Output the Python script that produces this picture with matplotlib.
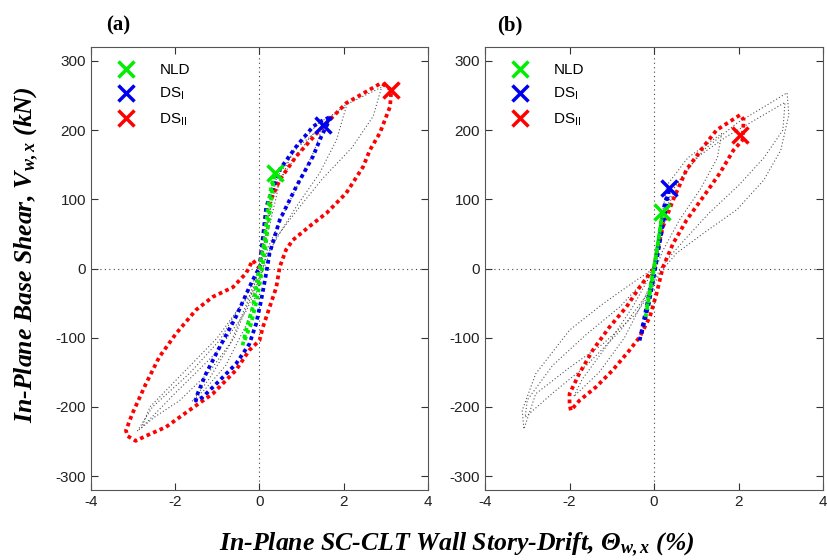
import matplotlib.pyplot as plt

plt.rcParams['font.family'] = 'Liberation Sans'
plt.rcParams['axes.unicode_minus'] = False
plt.rcParams['mathtext.fontset'] = 'custom'
plt.rcParams['mathtext.rm'] = 'Liberation Serif:italic:bold'
plt.rcParams['mathtext.it'] = 'Liberation Serif:italic:bold'
plt.rcParams['mathtext.bf'] = 'Liberation Serif:italic:bold'

# ---- panel (a) data: drift (%) and base shear (kN) ----
a_red_x = [0, 0.08, 0.2, 0.48, 0.87, 1.43, 2.06, 2.89, 3.13, 3.1, 2.86, 2.62, 2.46, 2.06, 1.59,
           1.27, 0.79, 0.63, 0.48, 0.4, 0.24, 0.08, 0.0, -0.24, -0.56, -1.11, -1.67, -2.22, -2.7,
           -2.94, -3.13, -3.17, -3.02, -2.7, -2.38, -1.98, -1.51, -1.11, -0.63, -0.32, -0.16, 0]
a_red_y = [0, 41, 89, 128, 162, 200, 239, 268, 258, 234, 196, 171, 147, 109, 80,
           65, 41, 27, 2, -27, -56, -85, -104, -118, -147, -181, -205, -229, -242,
           -249, -242, -234, -210, -167, -128, -94, -60, -41, -27, -7, 12, 0]

a_blue_x = [0, 0.16, 0.48, 0.87, 1.27, 1.47, 1.71, 1.47, 1.27, 0.87, 0.48, 0.24, 0.16, 0.04,
            -0.08, -0.24, -0.56, -0.95, -1.35, -1.51, -1.47, -1.27, -0.95, -0.56, -0.24, -0.08, 0]
a_blue_y = [0, 89, 143, 176, 205, 213, 220, 191, 162, 118, 70, 22, -7, -46,
            -80, -109, -138, -162, -186, -191, -181, -152, -114, -70, -27, -7, 0]

a_green_x = [-0.4, -0.32, -0.16, -0.08, 0.0, 0.12, 0.2, 0.28, 0.36, 0.3, 0.22, 0.14, 0.04, -0.06, -0.2, -0.36]
a_green_y = [-111, -89, -56, -27, 0, 41, 89, 118, 138, 110, 70, 30, -10, -45, -80, -105]

a_grey_x = [[0, 0.3, 0.8, 1.4, 2.06, 1.83, 1.43, 0.87, 0.48, 0.16, -0.1, -0.48, -0.95, -1.67, -2.54,
             -2.9, -2.5, -1.9, -1.2, -0.6, -0.2, 0],
            [0, 0.4, 0.9, 1.5, 1.3, 0.9, 0.5, 0.2, 0.0, -0.3, -0.8, -1.3, -1.6, -1.2, -0.7, -0.3, 0],
            [0, 0.5, 1.2, 2.0, 2.9, 2.7, 2.2, 1.5, 0.9, 0.4, 0.1, -0.3, -1.0, -2.0, -2.8,
             -2.6, -1.8, -1.0, -0.4, 0]]
a_grey_y = [[0, 100, 170, 210, 234, 186, 138, 89, 51, 17, -30, -56, -104, -152, -200,
             -235, -215, -191, -150, -100, -40, 0],
            [0, 130, 175, 205, 170, 120, 70, 30, -20, -80, -140, -175, -192, -160, -110, -50, 0],
            [0, 130, 190, 235, 262, 220, 175, 130, 85, 45, 0, -60, -120, -180, -230,
             -200, -150, -100, -50, 0]]

a_marks_x = [0.36, 1.51, 3.13]
a_marks_y = [138, 208, 258]

# ---- panel (b) data ----
b_red_x = [0, 0.06, 0.21, 0.45, 0.77, 1.17, 1.48, 2.04, 2.12, 2.1, 1.88, 1.56, 1.17, 0.77,
           0.45, 0.21, 0.06, -0.1, -0.34, -0.58, -0.98, -1.37, -1.77, -1.97, -2.0, -2.0,
           -1.77, -1.45, -1.06, -0.66, -0.34, -0.1, 0]
b_red_y = [0, 22, 60, 99, 143, 176, 200, 222, 215, 186, 171, 138, 104, 70,
           36, 2, -36, -70, -99, -118, -147, -171, -191, -205, -196, -181,
           -152, -118, -85, -56, -27, -7, 0]

b_blue_x = [-0.34, -0.26, -0.16, -0.06, 0.04, 0.14, 0.24, 0.36, 0.3, 0.2, 0.1, 0.0, -0.12, -0.3]
b_blue_y = [-104, -80, -50, -20, 10, 50, 90, 116, 95, 60, 25, -10, -50, -95]

b_green_x = [-0.2, -0.1, 0.0, 0.1, 0.2, 0.14, 0.05, -0.05, -0.18]
b_green_y = [-70, -35, 0, 40, 82, 55, 20, -15, -60]

b_grey_x = [[0, 0.06, 0.5, 1.17, 1.96, 2.75, 3.15, 3.19, 3.0, 2.6, 1.96, 1.17, 0.53, 0.13, -0.1,
             -0.42, -1.21, -2.0, -2.8, -3.08, -3.12, -2.8, -2.0, -1.21, -0.42, 0],
            [0, 0.4, 1.0, 1.7, 2.4, 3.1, 3.05, 2.6, 2.0, 1.3, 0.7, 0.2, -0.2, -0.8, -1.6,
             -2.4, -3.05, -3.0, -2.4, -1.6, -0.8, -0.2, 0],
            [0, 0.3, 0.8, 1.6, 1.5, 1.1, 0.6, 0.2, -0.2, -0.7, -1.3, -1.9, -1.7, -1.1, -0.5, 0]]
b_grey_y = [[0, 31, 120, 171, 210, 239, 254, 222, 171, 128, 85, 51, 22, -7, -36,
             -65, -109, -143, -181, -232, -205, -152, -89, -51, -17, 0],
            [0, 110, 160, 190, 215, 240, 200, 160, 120, 80, 40, 5, -40, -90, -140,
             -180, -215, -190, -140, -95, -55, -15, 0],
            [0, 120, 160, 195, 160, 115, 70, 25, -40, -100, -150, -185, -160, -110, -55, 0]]

b_marks_x = [0.2, 0.36, 2.04]
b_marks_y = [82, 116, 193]

labels = ['NLD', r'DS$_\mathregular{I}$', r'DS$_\mathregular{II}$']
colors = ['#00ee00', '#0000ee', '#ff0000']

fig = plt.figure(figsize=(8.27, 5.6), dpi=100)
ax1 = fig.add_axes([0.110, 0.125, 0.4075, 0.791])
ax2 = fig.add_axes([0.5865, 0.125, 0.4087, 0.791])


def draw(ax, grey_x, grey_y, red, blue, green, mx, my):
    ax.axhline(0, color='#444444', lw=0.8, ls=(0, (1, 3)))
    ax.axvline(0, color='#444444', lw=0.8, ls=(0, (1, 3)))
    for gx, gy in zip(grey_x, grey_y):
        ax.plot(gx, gy, color='#555555', lw=0.8, ls=(0, (1, 2)))
    ax.plot(red[0], red[1], color='#ff0000', lw=2.7, ls=(0, (1, 0.9)))
    ax.plot(blue[0], blue[1], color='#0000ee', lw=2.7, ls=(0, (1, 0.9)))
    ax.plot(green[0], green[1], color='#00ee00', lw=2.7, ls=(0, (1, 0.9)))
    for i in range(3):
        ax.plot(mx[i], my[i], 'x', color=colors[i], ms=12, mew=2.5, label=labels[i])
    ax.set_xlim(-4, 4)
    ax.set_ylim(-320, 320)
    ax.set_xticks([-4, -2, 0, 2, 4])
    ax.set_yticks([-300, -200, -100, 0, 100, 200, 300])
    ax.tick_params(direction='in', top=True, right=True, labelsize=11, length=5,
                   colors='#333333', labelcolor='#222222')
    for s in ax.spines.values():
        s.set_color('#555555')
    ax.legend(loc='upper left', bbox_to_anchor=(0.035, 0.995), frameon=False, fontsize=11,
              handlelength=1.2, handletextpad=1.6, labelspacing=0.6)


draw(ax1, a_grey_x, a_grey_y, (a_red_x, a_red_y), (a_blue_x, a_blue_y),
     (a_green_x, a_green_y), a_marks_x, a_marks_y)
draw(ax2, b_grey_x, b_grey_y, (b_red_x, b_red_y), (b_blue_x, b_blue_y),
     (b_green_x, b_green_y), b_marks_x, b_marks_y)

fig.text(0.143, 0.955, '(a)', fontsize=15, fontweight='bold', family='Liberation Serif',
         ha='center', va='center')
fig.text(0.617, 0.955, '(b)', fontsize=15, fontweight='bold', family='Liberation Serif',
         ha='center', va='center')

fig.text(0.032, 0.545, r'In-Plane Base Shear, $V_{w,x}$ (kN)', rotation=90, fontsize=18.5,
         fontweight='bold', style='italic', family='Liberation Serif', ha='center', va='center')
fig.text(0.552, 0.027, r'In-Plane SC-CLT Wall Story-Drift, $\Theta_{w,x}$ (%)', fontsize=18.5,
         fontweight='bold', style='italic', family='Liberation Serif', ha='center', va='center')

fig.savefig('out.png', dpi=100)
